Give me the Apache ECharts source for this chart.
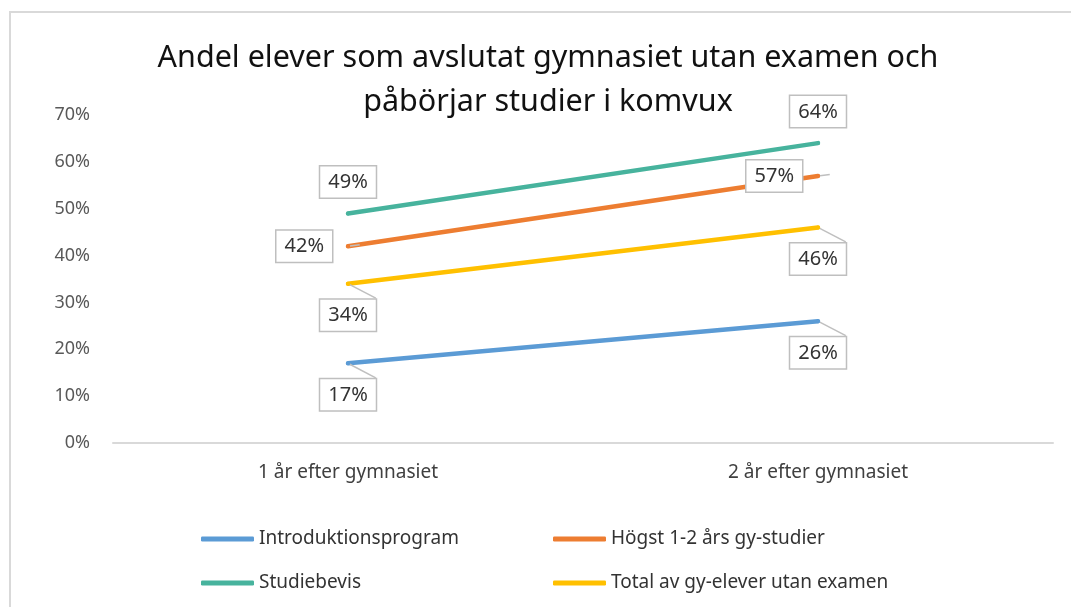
<!DOCTYPE html>
<html>
<head>
<meta charset="utf-8">
<script src="https://cdn.jsdelivr.net/npm/echarts@6/dist/echarts.min.js"></script>
<style>html,body{margin:0;padding:0;background:#fff}#chart{width:1071px;height:607px}</style>
</head>
<body>
<div id="chart"></div>
<script>
var categories = ["1 år efter gymnasiet", "2 år efter gymnasiet"];
var seriesNames = ["Introduktionsprogram", "Högst 1-2 års gy-studier", "Studiebevis", "Total av gy-elever utan examen"];
var introValues = [17, 26];
var hogstValues = [42, 57];
var studiebevisValues = [49, 64];
var totalValues = [34, 46];
var yTicks = [0, 10, 20, 30, 40, 50, 60, 70];

var colors = ["#5b9bd5", "#ed7d31", "#47b39d", "#ffc000"];
// where each callout sits relative to its point
var labelPos = [["bottom", "bottom"], ["left", "left"], ["top", "top"], ["bottom", "bottom"]];

function buildData(vals, pos) {
	return vals.map(function (v, i) {
		return { value: v, label: { position: pos[i] } };
	});
}

var chart = echarts.init(document.getElementById("chart"));
var allValues = [introValues, hogstValues, studiebevisValues, totalValues];
var series = seriesNames.map(function (name, k) {
	return {
		name: name,
		type: "line",
		data: buildData(allValues[k], labelPos[k]),
		symbol: "circle",
		symbolSize: 4,
		itemStyle: { color: colors[k] },
		lineStyle: { width: 4.5, color: colors[k], cap: "round" },
		label: {
			show: true,
			formatter: "{c}%",
			fontFamily: "Noto Sans",
			fontSize: 20,
			color: "#333",
			backgroundColor: "#fff",
			borderColor: "#bfbfbf",
			borderWidth: 1.5,
			padding: [6, 8, 5, 8],
			distance: 14
		},
		labelLine: { show: true, lineStyle: { color: "#bfbfbf", width: 1.5 } },
		emphasis: { disabled: true }
	};
});

var legendText = { fontFamily: "Noto Sans", fontSize: 19, color: "#333", lineHeight: 22 };

var option = {
	animation: false,
	title: {
		text: "Andel elever som avslutat gymnasiet utan examen och\npåbörjar studier i komvux",
		left: 548,
		top: 36,
		padding: 0,
		textAlign: "center",
		textStyle: { fontFamily: "Noto Sans", fontSize: 30.5, fontWeight: "normal", color: "#111", lineHeight: 44 }
	},
	graphic: [{
		type: "rect",
		shape: { x: 10, y: 12, width: 1200, height: 800 },
		style: { fill: "none", stroke: "#d9d9d9", lineWidth: 2 },
		silent: true
	}],
	legend: [{
		orient: "vertical",
		left: 201,
		top: 528,
		padding: 0,
		itemWidth: 53,
		itemHeight: 5,
		itemGap: 22,
		icon: "roundRect",
		data: [seriesNames[0], seriesNames[2]],
		textStyle: legendText
	}, {
		orient: "vertical",
		left: 553,
		top: 528,
		padding: 0,
		itemWidth: 53,
		itemHeight: 5,
		itemGap: 22,
		icon: "roundRect",
		data: [seriesNames[1], seriesNames[3]],
		textStyle: legendText
	}],
	grid: { left: 113, right: 18, top: 115, bottom: 164 },
	xAxis: {
		type: "category",
		data: categories,
		axisLine: { lineStyle: { color: "#d9d9d9", width: 2 } },
		axisTick: { show: false },
		axisLabel: { fontFamily: "Noto Sans", fontSize: 19, color: "#404040", margin: 20 }
	},
	yAxis: {
		type: "value",
		min: yTicks[0],
		max: yTicks[yTicks.length - 1],
		interval: 10,
		axisLine: { show: false },
		axisTick: { show: false },
		splitLine: { show: false },
		axisLabel: { fontFamily: "Noto Sans", fontSize: 18, color: "#595959", margin: 23, formatter: "{value}%" }
	},
	series: series
};
chart.setOption(option);
window.addEventListener("resize", chart.resize);
</script>
</body>
</html>
